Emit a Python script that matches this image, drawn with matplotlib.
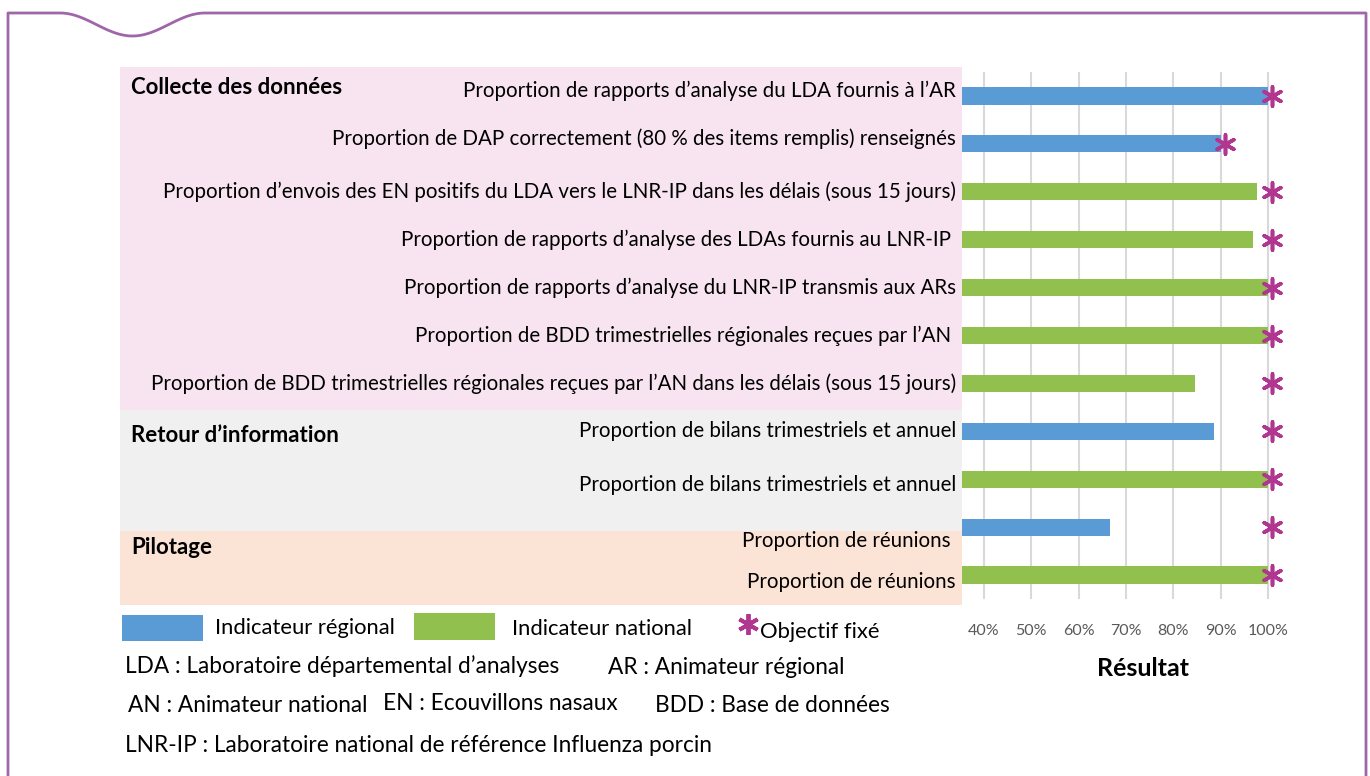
import numpy as np
import matplotlib.pyplot as plt
from matplotlib.patches import Rectangle
from matplotlib.lines import Line2D
from matplotlib.transforms import ScaledTranslation, blended_transform_factory

plt.rcParams['font.family'] = ['Lato', 'DejaVu Sans']

# donnees
indicateurs = [
    "Proportion de rapports d’analyse du LDA fournis à l’AR",
    "Proportion de DAP correctement (80 % des items remplis) renseignés",
    "Proportion d’envois des EN positifs du LDA vers le LNR-IP dans les délais (sous 15 jours)",
    "Proportion de rapports d’analyse des LDAs fournis au LNR-IP ",
    "Proportion de rapports d’analyse du LNR-IP transmis aux ARs",
    "Proportion de BDD trimestrielles régionales reçues par l’AN ",
    "Proportion de BDD trimestrielles régionales reçues par l’AN dans les délais (sous 15 jours)",
    "Proportion de bilans trimestriels et annuel",
    "Proportion de bilans trimestriels et annuel",
    "Proportion de réunions ",
    "Proportion de réunions",
]
valeurs = [1.00, 0.90, 0.976, 0.968, 1.00, 1.00, 0.846, 0.886, 1.00, 0.666, 1.00]
niveau = ["R", "R", "N", "N", "N", "N", "N", "R", "N", "R", "N"]
objectifs = [1.00, 0.90, 1.00, 1.00, 1.00, 1.00, 1.00, 1.00, 1.00, 1.00, 1.00]
graduations = [0.4, 0.5, 0.6, 0.7, 0.8, 0.9, 1.0]
etiquettes_x = ["40%", "50%", "60%", "70%", "80%", "90%", "100%"]
sections = ["Collecte des données", "Retour d’information", "Pilotage"]

couleurs = {"R": "#5b9bd5", "N": "#92c04f"}
violet = "#b0368f"
cadre = "#a066aa"

W, H = 1370, 776
fig = plt.figure(figsize=(13.7, 7.76), dpi=100, facecolor="white")

def fx(x):
    return x / W

def fy(y):
    return 1 - y / H

# fonds des sections
for (y0, y1, c) in [(67, 410, "#f7e4f0"), (410, 531, "#f0f0f0"), (531, 605, "#fbe4d5")]:
    fig.add_artist(Rectangle((fx(120), fy(y1)), fx(962) - fx(120), fy(y0) - fy(y1),
                             transform=fig.transFigure, facecolor=c, edgecolor="none", zorder=0))

# cadre avec la vague
xs = np.linspace(60, 205, 80)
ys = 13 + 11.5 * (1 - np.cos(2 * np.pi * (xs - 60) / 145))
cx = np.concatenate([[8, 8], xs, [1366, 1366]])
cy = np.concatenate([[776, 13], ys, [13, 776]])
fig.add_artist(Line2D(fx(cx), fy(cy), transform=fig.transFigure, color=cadre, lw=2.0))

# axes
ax = fig.add_axes([fx(962), fy(599), fx(1270) - fx(962), fy(72) - fy(599)])
ax.set_facecolor("none")
rangs = np.arange(len(valeurs))
ax.barh(rangs, valeurs, height=0.36, left=0,
        color=[couleurs[n] for n in niveau], zorder=2)
decal = ScaledTranslation(4 / 100, 0, fig.dpi_scale_trans)
ax.scatter(objectifs, rangs, marker=(6, 2, 0), s=190, color=violet, linewidths=2.6,
           zorder=4, clip_on=False, transform=ax.transData + decal)
ax.set_xlim(0.3535, 1.004)
ax.set_ylim(len(valeurs) - 0.5, -0.5)
ax.set_xticks(graduations)
ax.set_xticklabels(etiquettes_x, color="#595959", fontsize=11.5)
ax.set_yticks([])
ax.tick_params(axis="x", length=0, pad=18)
ax.grid(axis="x", color="#d9d9d9", lw=1.5, zorder=1)
ax.set_axisbelow(True)
for s in ax.spines.values():
    s.set_visible(False)
fig.text(fx(1143), fy(668), "Résultat", ha="center", va="center",
         fontsize=18, fontweight="bold")

# libelles des indicateurs
tr = blended_transform_factory(fig.transFigure, ax.transData)
decalages = {0: -5, 1: -5, 8: 6, 9: 14, 10: 7}
for i, lab in enumerate(indicateurs):
    off = ScaledTranslation(0, -decalages.get(i, 0) / 100, fig.dpi_scale_trans)
    ax.text(fx(956), i, lab, transform=tr + off, ha="right", va="center",
            fontsize=14.8, clip_on=False)

# titres des sections
for lab, y in zip(sections, [88, 436, 548]):
    fig.text(fx(131), fy(y), lab, ha="left", va="center", fontsize=16, fontweight="bold")

# legende
fig.add_artist(Rectangle((fx(122), fy(641)), fx(81), 26 / H, transform=fig.transFigure,
                         facecolor=couleurs["R"], edgecolor="none"))
fig.text(fx(215), fy(628), "Indicateur régional", ha="left", va="center", fontsize=15.8)
fig.add_artist(Rectangle((fx(414), fy(640)), fx(81), 27 / H, transform=fig.transFigure,
                         facecolor=couleurs["N"], edgecolor="none"))
fig.text(fx(512), fy(629), "Indicateur national", ha="left", va="center", fontsize=15.8)
fig.add_artist(Line2D([fx(748)], [fy(624)], transform=fig.transFigure, marker=(6, 2, 0),
                      markersize=15, markeredgewidth=2.8, color=violet, linestyle="none"))
fig.text(fx(760), fy(632), "Objectif fixé", ha="left", va="center", fontsize=15.8)

abrev = [
    ("LDA : Laboratoire départemental d’analyses", 125, 666),
    ("AR : Animateur régional", 608, 667),
    ("AN : Animateur national", 128, 705),
    ("EN : Ecouvillons nasaux", 383, 704),
    ("BDD : Base de données", 655, 706),
    ("LNR-IP : Laboratoire national de référence Influenza porcin", 125, 746),
]
for lab, x, y in abrev:
    fig.text(fx(x), fy(y), lab, ha="left", va="center", fontsize=16.3)

fig.savefig("out.png", dpi=100, facecolor="white")
